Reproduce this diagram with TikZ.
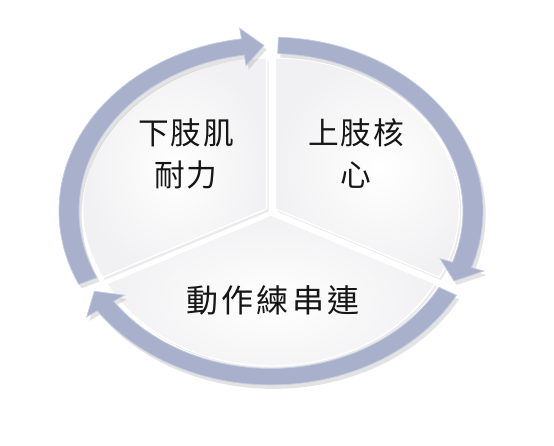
\documentclass[tikz,border=0pt]{standalone}
\usepackage{fontspec}
\newfontfamily\cjk[LetterSpace=6]{Noto Sans CJK TC}
\newfontfamily\cjklarge[LetterSpace=10]{Noto Sans CJK TC}
\usetikzlibrary{shadows}

\definecolor{anneau}{RGB}{168,176,204}
\definecolor{bordanneau}{RGB}{198,204,224}
\definecolor{secteurgris}{RGB}{241,241,243}
\definecolor{texte}{RGB}{22,22,22}

\tikzset{
  fleche/.style={fill=anneau,draw=bordanneau,line width=0.6pt,
    drop shadow={opacity=0.22,shadow xshift=2pt,shadow yshift=-3pt}},
  secteur/.style={inner color=white,outer color=secteurgris,draw=white,line width=1pt,
    drop shadow={opacity=0.16,shadow xshift=1.5pt,shadow yshift=-2pt}},
  etiquette/.style={font=\cjk\fontsize{23}{31.5}\selectfont,text=texte,align=center,inner sep=0pt}
}

% arc flechee : angle de depart, angle de la pointe
\newcommand{\arcfleche}[2]{%
  \path[fleche] (#1:212) arc[start angle=#1, end angle={#2+6}, radius=212]
    -- ({#2+6}:225) -- (#2:202) -- ({#2+6}:179) -- ({#2+6}:192)
    arc[start angle={#2+6}, end angle=#1, radius=192] -- cycle;}

\begin{document}
\begin{tikzpicture}[x=0.75pt,y=0.75pt]
  \useasboundingbox (-271,-235) rectangle (283,211);

  \begin{scope}[yscale=0.82]
    % secteurs
    \path[secteur,shift={(148.5:5)}] (0,0) -- (90:184) arc[start angle=90, end angle=207, radius=184] -- cycle;
    \path[secteur,shift={(31.5:5)}] (0,0) -- (-27:184) arc[start angle=-27, end angle=90, radius=184] -- cycle;
    \path[secteur,shift={(270:5)}] (0,0) -- (207:184) arc[start angle=207, end angle=333, radius=184] -- cycle;

    % anneau
    \arcfleche{205}{92}
    \arcfleche{88}{-25}
    \arcfleche{-29}{-151}
  \end{scope}

  \node[etiquette] (jambes) at (-85,57) {下肢肌\\耐力};
  \node[etiquette] (tronc) at (85,57) {上肢核\\心};
  \node[etiquette,font=\cjklarge\fontsize{24}{30}\selectfont] (enchainement) at (2,-89) {動作練串連};

\end{tikzpicture}
\end{document}
